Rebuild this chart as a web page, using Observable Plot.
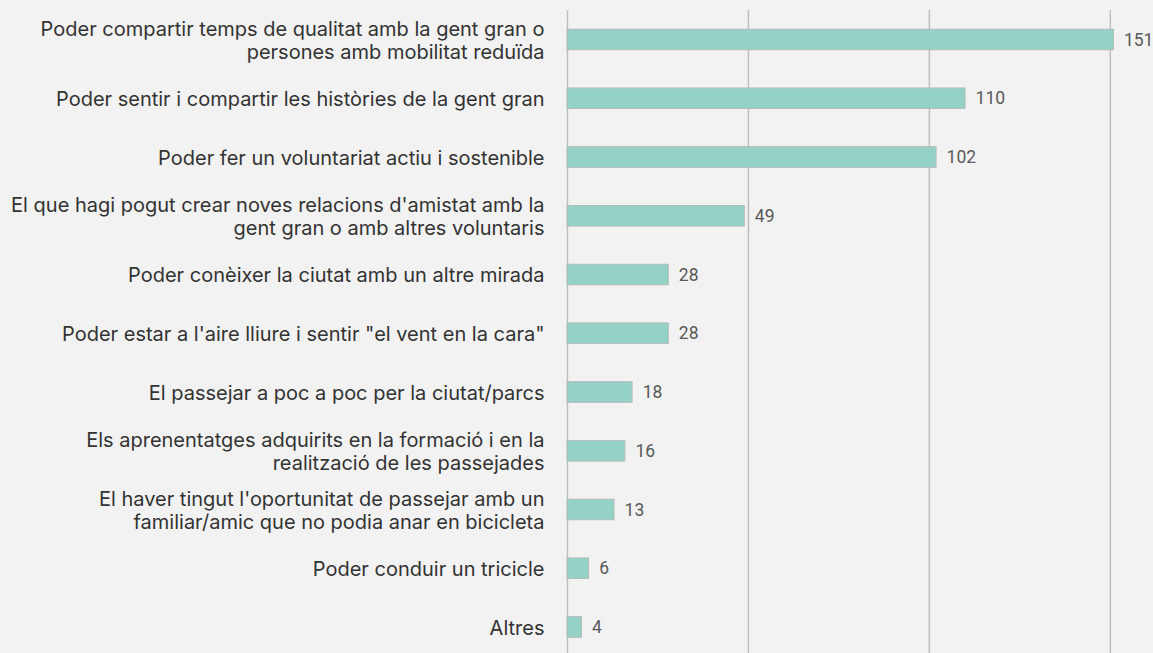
<!DOCTYPE html>
<html>
<head>
<meta charset="utf-8">
<script src="https://cdn.jsdelivr.net/npm/d3@7"></script>
<script src="https://cdn.jsdelivr.net/npm/@observablehq/plot@0.6"></script>
<style>
  html, body { margin: 0; padding: 0; background: #f2f2f2; }
  #chart svg { display: block; background: #f2f2f2; }
</style>
</head>
<body>
<div id="chart"></div>
<script>
const categories = [
  "Poder compartir temps de qualitat amb la gent gran o\npersones amb mobilitat reduïda",
  "Poder sentir i compartir les històries de la gent gran",
  "Poder fer un voluntariat actiu i sostenible",
  "El que hagi pogut crear noves relacions d'amistat amb la\ngent gran o amb altres voluntaris",
  "Poder conèixer la ciutat amb un altre mirada",
  "Poder estar a l'aire lliure i sentir \"el vent en la cara\"",
  "El passejar a poc a poc per la ciutat/parcs",
  "Els aprenentatges adquirits en la formació i en la\nrealització de les passejades",
  "El haver tingut l'oportunitat de passejar amb un\nfamiliar/amic que no podia anar en bicicleta",
  "Poder conduir un tricicle",
  "Altres"
];
const values = [151, 110, 102, 49, 28, 28, 18, 16, 13, 6, 4];
const gridTicks = [0, 50, 100, 150];

const data = categories.map((c, i) => ({category: c, value: values[i]}));

const chart = Plot.plot({
  width: 1153,
  height: 653,
  marginLeft: 567,
  marginRight: 7,
  marginTop: 10,
  marginBottom: -3.5,
  style: {background: "#f2f2f2", overflow: "hidden"},
  x: {domain: [0, 160], axis: null},
  y: {domain: categories, axis: null, paddingInner: 0.648, paddingOuter: 0.326, round: false},
  marks: [
    Plot.ruleX(gridTicks, {stroke: "#bdbdbd", strokeWidth: 1.4}),
    Plot.barX(data, {x: "value", y: "category", fill: "#93d2c5", stroke: "#b5b5b5", strokeWidth: 0.8}),
    Plot.text(data, {
      x: 0, y: "category", text: "category", textAnchor: "end", dx: -23,
      lineHeight: 1.17, fontSize: 20, fill: "#333333",
      fontFamily: "Inter, 'Noto Sans', sans-serif"
    }),
    Plot.text(data, {
      x: "value", y: "category", text: d => String(d.value), textAnchor: "start", dx: 10,
      fontSize: 17.5, fill: "#595959", fontFamily: "Roboto, sans-serif"
    })
  ]
});
document.getElementById("chart").appendChild(chart);
</script>
</body>
</html>
